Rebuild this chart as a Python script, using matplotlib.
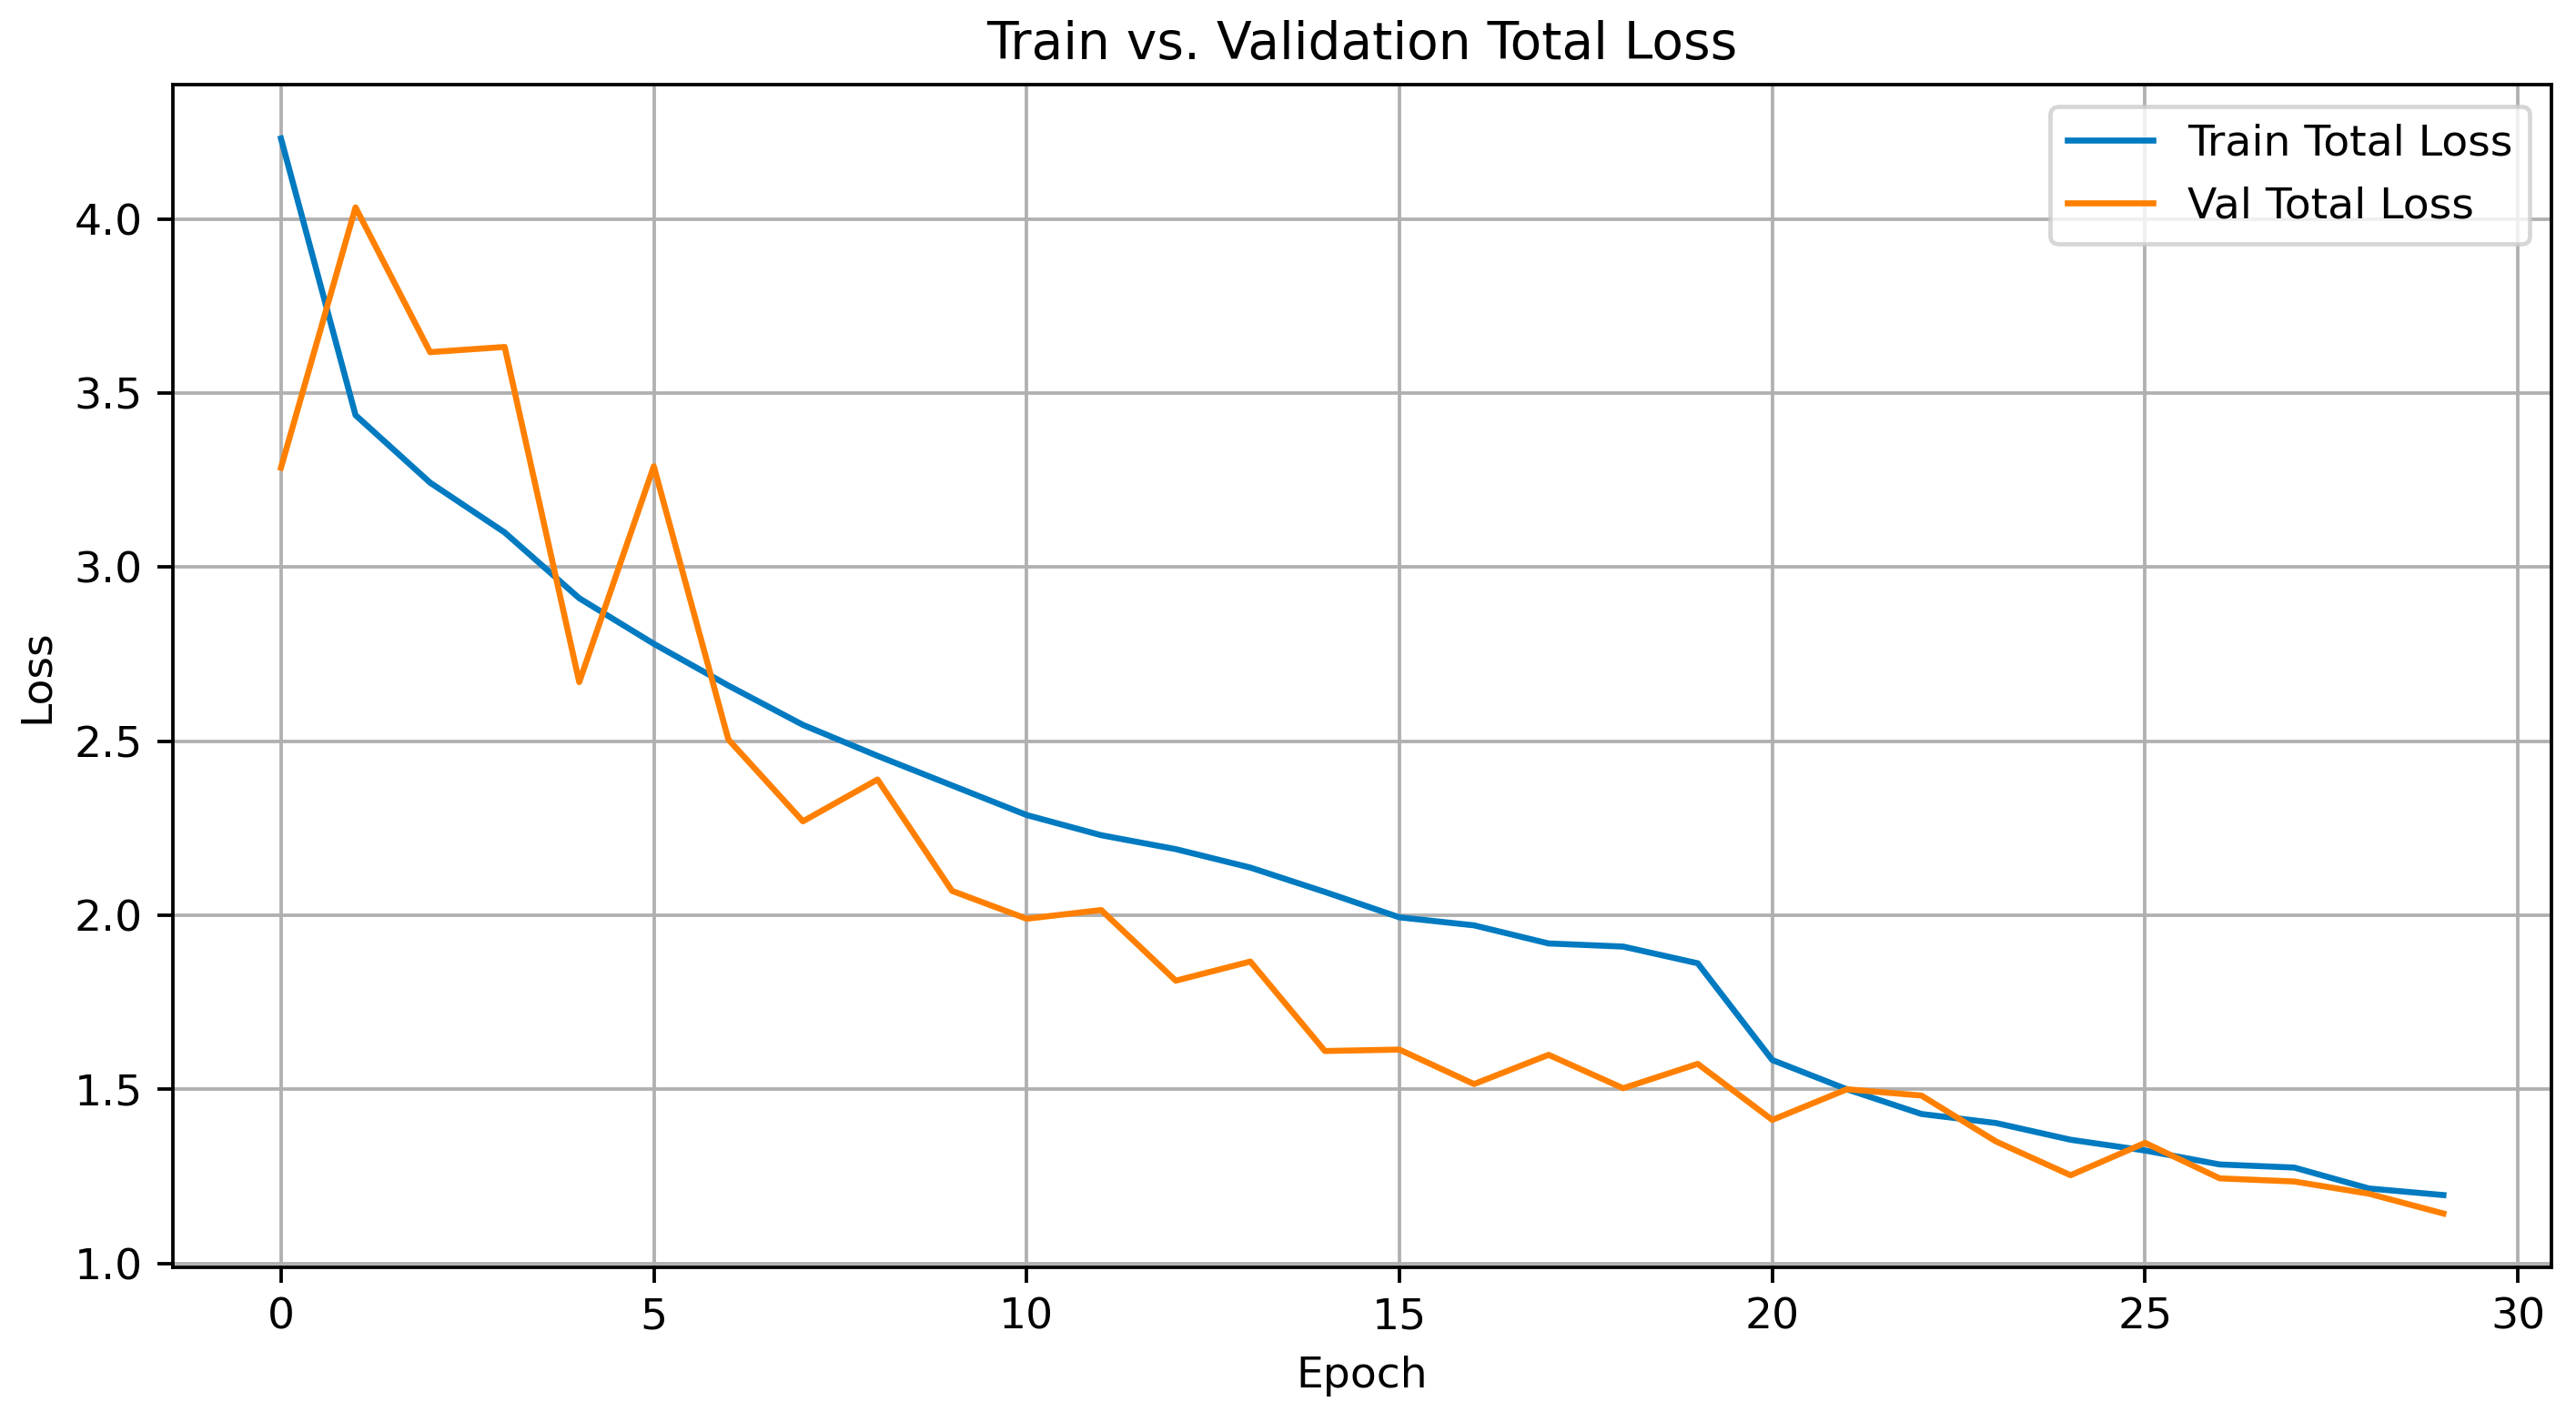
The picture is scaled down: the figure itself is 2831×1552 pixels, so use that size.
import matplotlib
matplotlib.use("Agg")
import matplotlib.pyplot as plt

epochs = list(range(30))
train_loss = [4.232, 3.437, 3.243, 3.100, 2.911, 2.780, 2.660, 2.547, 2.458, 2.373,
              2.288, 2.230, 2.190, 2.137, 2.067, 1.994, 1.971, 1.919, 1.910, 1.862,
              1.584, 1.500, 1.429, 1.403, 1.355, 1.324, 1.284, 1.275, 1.215, 1.196]
val_loss = [3.286, 4.034, 3.618, 3.633, 2.670, 3.290, 2.505, 2.270, 2.390, 2.070,
            1.990, 2.015, 1.812, 1.867, 1.610, 1.614, 1.515, 1.599, 1.503, 1.573,
            1.412, 1.500, 1.482, 1.350, 1.253, 1.346, 1.244, 1.235, 1.200, 1.143]

DPI = 340
fig = plt.figure(figsize=(2831 / DPI, 1552 / DPI), dpi=DPI)
ax = fig.add_axes([0.0671, 0.1025, 0.9905 - 0.0671, 0.940 - 0.1025])

ax.plot(epochs, train_loss, color="#007ac0", lw=1.4, label="Train Total Loss")
ax.plot(epochs, val_loss, color="#ff8000", lw=1.4, label="Val Total Loss")

ax.set_title("Train vs. Validation Total Loss", fontsize=12)
ax.set_xlabel("Epoch", fontsize=10)
ax.set_ylabel("Loss", fontsize=10)
ax.grid(True)
ax.legend(loc="upper right", fontsize=10)

fig.savefig("out.png", dpi=DPI)
